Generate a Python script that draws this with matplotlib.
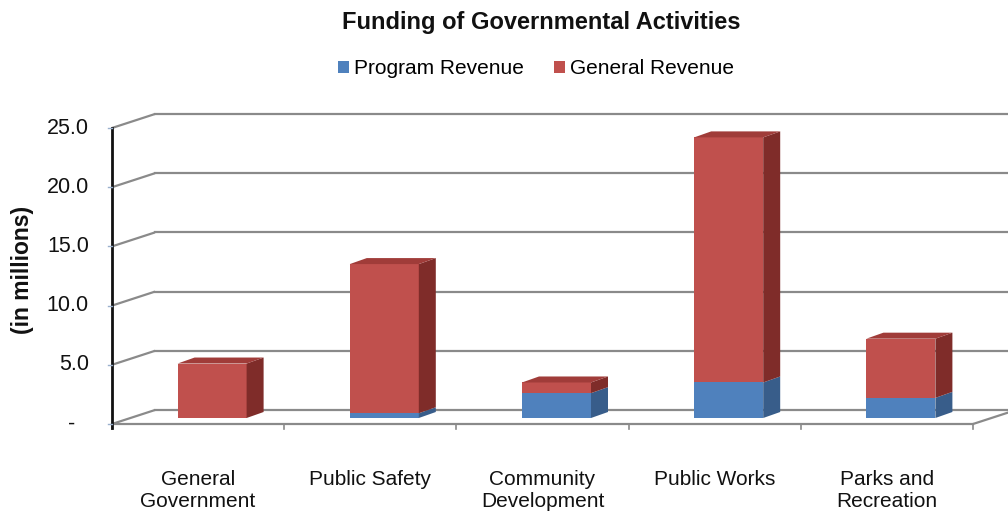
import matplotlib
matplotlib.use("Agg")
import matplotlib.pyplot as plt
from matplotlib.patches import Polygon

plt.rcParams['font.family'] = ['Liberation Sans', 'DejaVu Sans']

categories = ["General\nGovernment", "Public Safety", "Community\nDevelopment",
              "Public Works", "Parks and\nRecreation"]
program_revenue = [0.0, 0.4, 2.1, 3.0, 1.7]
general_revenue = [4.6, 12.6, 0.9, 20.7, 5.0]
ytick_vals = [0, 5, 10, 15, 20, 25]
ytick_labels = ["-", "5.0", "10.0", "15.0", "20.0", "25.0"]
series_names = ["Program Revenue", "General Revenue"]

W, H = 1008, 513
fig = plt.figure(figsize=(W / 100, H / 100), dpi=100)

# pixel geometry
px_per_x = 172.2
px_per_y = 11.84
x0_px, y0_px = 112, 424          # data (-0.5, 0)
xmin, xmax = -0.5, -0.5 + (W - x0_px) / px_per_x
ymin, ymax = -0.5, 26.5
ax = fig.add_axes([x0_px / W, (H - (y0_px - ymin * px_per_y)) / H,
                   (W - x0_px) / W, (ymax - ymin) * px_per_y / H])
ax.set_xlim(xmin, xmax)
ax.set_ylim(ymin, ymax)
ax.axis('off')

# wall depth offsets
wdx, wdy = 43 / px_per_x, 14 / px_per_y
# bar plane offset and bar depth
bdx, bdy = 14 / px_per_x, 6 / px_per_y
sdx, sdy = 17 / px_per_x, 6 / px_per_y
bw = 69 / px_per_x

grid_c = '#8a8a8a'
n = len(categories)
# back wall gridlines + left wall gridlines
for v in ytick_vals:
    ax.plot([-0.5, -0.5 + wdx], [v, v + wdy], color=grid_c, lw=1.6,
            solid_capstyle='butt', clip_on=False, zorder=1)
    ax.plot([-0.5 + wdx, xmax + 0.1], [v + wdy, v + wdy], color=grid_c, lw=1.6,
            clip_on=False, zorder=1)

# floor front edge and right diagonal
ax.plot([-0.5, n - 0.5], [0, 0], color=grid_c, lw=1.6, zorder=1, clip_on=False)
ax.plot([n - 0.5, n - 0.5 + wdx], [0, wdy], color=grid_c, lw=1.6, zorder=1, clip_on=True)
# x ticks
for k in range(n + 1):
    ax.plot([k - 0.5, k - 0.5], [0, -0.45], color=grid_c, lw=1.2, zorder=1, clip_on=False)

# left axis line
ax.plot([-0.5, -0.5], [-0.3, 25], color='#111111', lw=2, zorder=5, clip_on=False)
for v, lab in zip(ytick_vals, ytick_labels):
    ax.plot([-0.5 - 4 / px_per_x, -0.5], [v, v], color='#9ab0cc', lw=1, zorder=5, clip_on=False)
    if lab == "-":
        ax.text(-0.5 - 40 / px_per_x, v, lab, ha='center', va='center', fontsize=15.5, color='#111111')
    else:
        ax.text(-0.5 - 23 / px_per_x, v, lab, ha='right', va='center', fontsize=15.5, color='#111111')

# bars
colors = {
    'blue': ('#4f81bd', '#385d8a', '#3f6aa0'),
    'red': ('#c0504d', '#7f2c29', '#a03c39'),
}
xs = [i + bdx for i in range(n)]
base = bdy
ax.bar(xs, program_revenue, width=bw, bottom=base, color=colors['blue'][0],
       zorder=3, label=series_names[0], linewidth=0)
ax.bar(xs, general_revenue, width=bw, bottom=[base + p for p in program_revenue],
       color=colors['red'][0], zorder=3, label=series_names[1], linewidth=0)

for i in range(n):
    xl = xs[i] - bw / 2
    xr = xs[i] + bw / 2
    segs = [(base, base + program_revenue[i], 'blue'),
            (base + program_revenue[i], base + program_revenue[i] + general_revenue[i], 'red')]
    for b, t, key in segs:
        if t - b <= 0:
            continue
        ax.add_patch(Polygon([(xr, b), (xr + sdx, b + sdy), (xr + sdx, t + sdy), (xr, t)],
                             closed=True, facecolor=colors[key][1], edgecolor='none', zorder=3))
    top = base + program_revenue[i] + general_revenue[i]
    ax.add_patch(Polygon([(xl, top), (xl + sdx, top + sdy), (xr + sdx, top + sdy), (xr, top)],
                         closed=True, facecolor=colors['red'][2], edgecolor='none', zorder=3))

# category labels
for i, lab in enumerate(categories):
    ax.text(i, (y0_px - 470) / px_per_y, lab, ha='center', va='top', fontsize=15,
            linespacing=1.2, color='#111111', clip_on=False)

fig.text(22 / W, 1 - 270 / H, "(in millions)", rotation=90, ha='center', va='center',
         fontsize=16.5, fontweight='bold', color='#111111')
fig.text(541 / W, 1 - 23 / H, "Funding of Governmental Activities", ha='center', va='center',
         fontsize=17, fontweight='bold', color='#111111')

leg = fig.legend(loc='center', bbox_to_anchor=(536 / W, 1 - 69 / H), ncol=2, frameon=False,
                 fontsize=15, handlelength=0.55, handleheight=0.55, handletextpad=0.25,
                 columnspacing=1.4)

fig.savefig('out.png', dpi=100)
